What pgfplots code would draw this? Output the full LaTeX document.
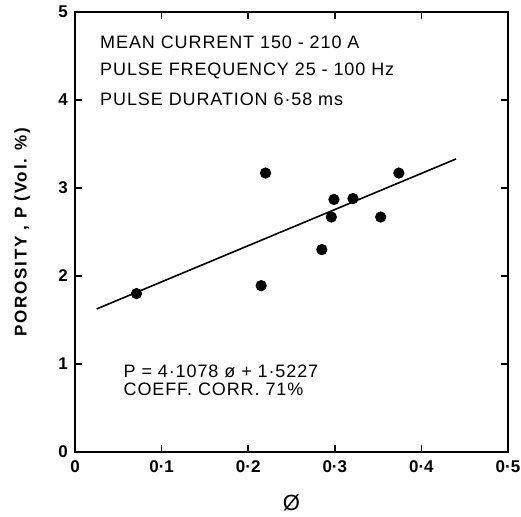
\documentclass[border=0pt]{standalone}
\usepackage{fontspec}
\setmainfont{Liberation Sans}
\newfontfamily\wide[LetterSpace=5]{Liberation Sans}
\newfontfamily\wider[LetterSpace=10]{Liberation Sans}
\usepackage{pgfplots}
\pgfplotsset{compat=1.18}
\begin{document}
\begin{tikzpicture}[x=1pt,y=1pt]
\begin{axis}[
    scale only axis,
    width=216.5pt, height=220pt,
    xmin=0, xmax=0.5, ymin=0, ymax=5,
    xtick={0,0.1,0.2,0.3,0.4,0.5},
    xticklabels={0,0·1,0·2,0·3,0·4,0·5},
    ytick={0,1,2,3,4,5},
    tick align=inside,
    major tick length=3.5pt,
    axis line style={line width=1pt},
    tick style={line width=0.8pt, black},
    tick label style={font=\bfseries\fontsize{8.5}{10}\selectfont},
    /pgf/number format/assume math mode=true,
    xticklabel style={yshift=-1pt},
    xlabel={Ø},
    xlabel style={at={(axis description cs:0.5,-0.116)}, anchor=center, font=\fontsize{11}{12}\selectfont},
    ylabel={POROSITY , P (Vol. \%)},
    ylabel style={at={(axis description cs:-0.122,0.5)}, anchor=center, font=\wider\bfseries\fontsize{8.5}{9}\selectfont},
]
% regression line P = 4.1078 phi + 1.5227
\addplot[no markers, line width=0.8pt] coordinates {(0.025,1.6254) (0.44,3.3301)};
% measured points
\addplot[only marks, mark=*, mark size=2.6pt, black] coordinates {
    (0.071,1.80) (0.215,1.89) (0.220,3.17) (0.285,2.30) (0.296,2.67)
    (0.299,2.87) (0.321,2.88) (0.353,2.67) (0.374,3.17)
};
\node[anchor=west, font=\wide\fontsize{9}{10}\selectfont] at (axis cs:0.021,4.66) {MEAN CURRENT 150 - 210 A};
\node[anchor=west, font=\wide\fontsize{9}{10}\selectfont] at (axis cs:0.021,4.33) {PULSE FREQUENCY 25 - 100 Hz};
\node[anchor=west, font=\wide\fontsize{9}{10}\selectfont] at (axis cs:0.021,4.01) {PULSE DURATION 6·58 ms};
\node[anchor=west, font=\wide\fontsize{9}{10}\selectfont] at (axis cs:0.048,0.92) {P = 4·1078 ø + 1·5227};
\node[anchor=west, font=\wide\fontsize{9}{10}\selectfont] at (axis cs:0.048,0.71) {COEFF. CORR. 71\%};
\end{axis}
\pgfresetboundingbox
\path[use as bounding box] (-37.5,-32.5) rectangle (223,226);
\end{tikzpicture}
\end{document}
